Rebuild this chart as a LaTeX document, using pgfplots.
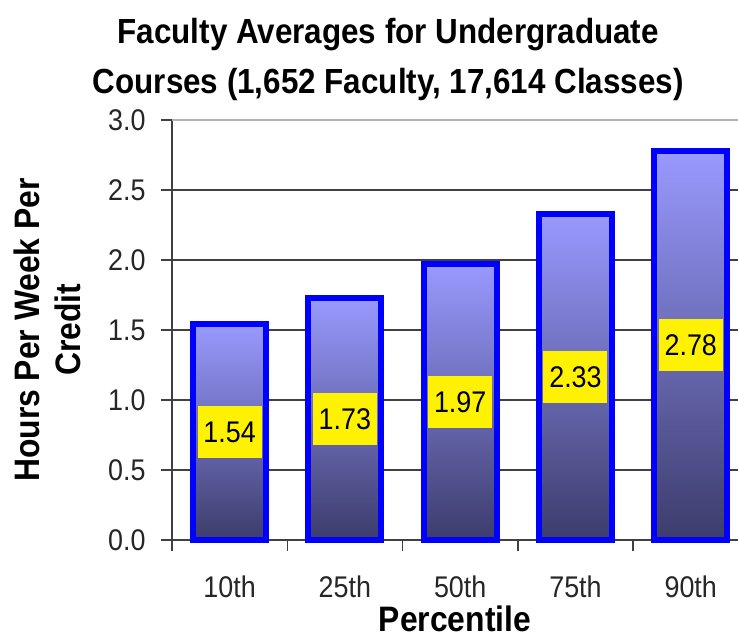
\documentclass[border=0pt]{standalone}
\usepackage{fontspec}
\setmainfont{Liberation Sans}[FakeStretch=0.9]
\usepackage{pgfplots}
\pgfplotsset{compat=1.18}
\definecolor{barblue}{HTML}{0000FF}
\definecolor{bartop}{HTML}{9999FF}
\definecolor{barbot}{HTML}{3C3C6C}
\definecolor{gridc}{HTML}{404040}
\pgfplotsset{mybar/.style={ybar, bar width=73bp, draw=barblue, line width=6bp, top color=bartop, bottom color=barbot}}
\begin{document}
\begin{tikzpicture}[x=1bp,y=1bp]
\begin{axis}[
  at={(0,0)}, anchor=south west,
  scale only axis, width=566bp, height=420bp,
  xmin=-0.5, xmax=4.41, ymin=0, ymax=3,
  axis x line*=bottom, axis y line*=left,
  axis line style={gridc, line width=1.5bp},
  ytick={0,0.5,1,1.5,2,2.5},
  yticklabels={0.0,0.5,1.0,1.5,2.0,2.5},
  extra y ticks={3}, extra y tick labels={3.0},
  extra y tick style={grid style={gray!60, line width=1.5bp}},
  ymajorgrids, grid style={gridc, line width=1.5bp},
  tick align=outside, major tick length=11bp,
  tick style={gridc, line width=1.5bp},
  xtick={-0.5,0.5,1.5,2.5,3.5}, xticklabels={},
  extra x ticks={0,1,2,3,4},
  extra x tick labels={10th,25th,50th,75th,90th},
  extra x tick style={major tick length=0pt},
  tick label style={font=\fontsize{30}{30}\selectfont, text=black!85},
  yticklabel style={xshift=-12bp},
  xticklabel style={yshift=-32bp},
  xlabel={Percentile},
  xlabel style={font=\bfseries\fontsize{35.5}{36}\selectfont, inner sep=0pt, at={(axis description cs:0.5,-0.219)}, anchor=base},
  ylabel={Hours Per Week Per\\Credit},
  ylabel style={font=\bfseries\fontsize{35.5}{42}\selectfont, align=center, at={(axis description cs:-0.154,0.5)}, anchor=south, rotate=0},
  title={Faculty Averages for Undergraduate\\Courses (1,652 Faculty, 17,614 Classes)},
  title style={font=\bfseries\fontsize{35}{50}\selectfont, align=center, at={(axis description cs:0.382,1)}, anchor=south, yshift=10bp},
  clip=false,
]
\addplot[mybar] coordinates {(0,1.54)};
\addplot[mybar] coordinates {(1,1.73)};
\addplot[mybar] coordinates {(2,1.97)};
\addplot[mybar] coordinates {(3,2.33)};
\addplot[mybar] coordinates {(4,2.78)};
\addplot[draw=none, mark=none, nodes near coords, point meta=explicit symbolic,
  nodes near coords align={center},
  nodes near coords style={fill=yellow, minimum width=64bp, minimum height=52bp, inner sep=0pt, font=\fontsize{30}{30}\selectfont, text=black}]
  coordinates {(0,0.77)[1.54] (1,0.865)[1.73] (2,0.985)[1.97] (3,1.165)[2.33] (4,1.39)[2.78]};
\end{axis}
\pgfresetboundingbox
\path[use as bounding box] (-172,-100) rectangle (566,540);
\end{tikzpicture}
\end{document}
